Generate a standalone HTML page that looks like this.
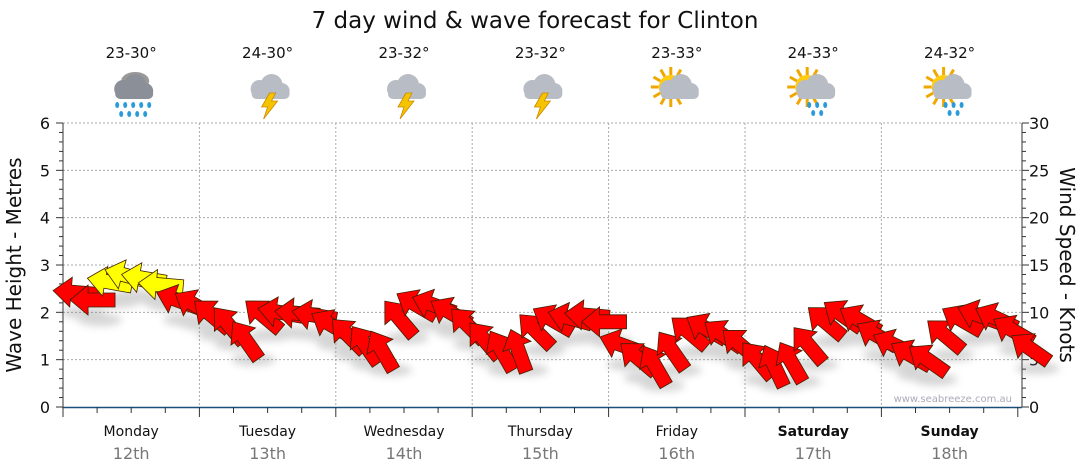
<!DOCTYPE html>
<html><head><meta charset="utf-8"><style>
body{margin:0;background:#fff;font-family:"DejaVu Sans","Liberation Sans",sans-serif}
svg{display:block}
</style></head><body>
<svg id="c" width="1080" height="475" xmlns="http://www.w3.org/2000/svg">
<defs>
<filter id="sh" x="-50%" y="-50%" width="200%" height="200%"><feGaussianBlur stdDeviation="4"/></filter>
</defs>
<text x="535" y="28" text-anchor="middle" font-size="23" fill="#111">7 day wind &amp; wave forecast for Clinton</text>
<g id="grid"></g><g id="axes"></g><g id="icons"></g><g id="marks"></g>
<text x="1012" y="402" text-anchor="end" font-size="10" fill="#aab">www.seabreeze.com.au</text>
<text transform="translate(21,265) rotate(-90)" text-anchor="middle" font-size="20" fill="#111">Wave Height - Metres</text>
<text transform="translate(1060,265) rotate(90)" text-anchor="middle" font-size="20" fill="#111">Wind Speed - Knots</text>
</svg>
<script>
const days=["Monday","Tuesday","Wednesday","Thursday","Friday","Saturday","Sunday"];
const dates=["12th","13th","14th","15th","16th","17th","18th"];
const temps=["23-30°","24-30°","23-32°","23-32°","23-33°","24-33°","24-32°"];
const weather=["rain","storm","storm","storm","partly","showers","showers"];
const waveTicks=[0,1,2,3,4,5,6];
const windTicks=[0,5,10,15,20,25,30];
const windSpeed=[12.1,11.3,13.2,13.9,13.6,12.9,11.3,10.8,
9.7,8.7,7.1,9.7,10,9.9,9.7,8.7,
7.6,6.6,6,9.4,10.8,10.8,10,8.7,
7.1,6,6,8.1,9.2,9.4,9.7,9,
6.6,5.2,4.4,6,7.9,8.3,7.6,6.6,
5,4.4,4.8,6.6,9,9.7,9.2,7.6,
6.6,5.5,5,7.6,9.2,9.7,9.4,8.1,6.2];
const windDir=[175,180,170,165,170,175,160,150,
140,130,125,140,170,175,170,150,
135,125,120,130,150,160,150,135,
130,120,110,135,150,165,175,180,
160,140,120,125,140,150,145,140,
130,115,120,130,140,145,150,150,
155,150,145,140,150,160,155,150,145];
const NS="http://www.w3.org/2000/svg";
const X0=63,X1=1022,Y0=407,Y1=123,DW=136.4;
const xDay=d=>X0+d*DW;
const yWave=v=>Y0-(v/6)*(Y0-Y1);
const yWind=v=>Y0-(v/30)*(Y0-Y1);
const xStep=i=>X0+12+i*DW/8;
function el(t,a,p){const e=document.createElementNS(NS,t);for(const k in a)e.setAttribute(k,a[k]);p.appendChild(e);return e;}
const grid=document.getElementById('grid'),axes=document.getElementById('axes'),icons=document.getElementById('icons'),marks=document.getElementById('marks');
waveTicks.forEach(v=>{
  if(v>0){const g=el('line',{x1:X0,x2:X1,y1:yWave(v),y2:yWave(v),stroke:'#aaa','stroke-dasharray':'2,2'},grid);
  
  }
  const t=el('text',{x:50,y:yWave(v)+6,'text-anchor':'end','font-size':16,fill:'#111'},axes);t.textContent=v;
  
  
});
windTicks.forEach(v=>{
  const t=el('text',{x:1029,y:yWind(v)+6,'font-size':16,fill:'#111'},axes);t.textContent=v;
  
  
});
for(let i=0;i<=30;i++){const y=Y0-i*(Y0-Y1)/30;
  el('line',{x1:i%5?X0-4:X0-7,x2:X0,y1:y,y2:y,stroke:'#333'},axes);
  el('line',{x1:X1,x2:i%5?X1+4:X1+7,y1:y,y2:y,stroke:'#333'},axes);}
el('line',{x1:X0,x2:X0,y1:Y1,y2:Y0,stroke:'#333'},axes);
el('line',{x1:X1,x2:X1,y1:Y1,y2:Y0,stroke:'#333'},axes);
el('line',{x1:X0,x2:X1,y1:Y0+0.5,y2:Y0+0.5,stroke:'#1a4f7a','stroke-width':1.5},axes);
for(let q=0;q<=28;q++){const x=X0+q*DW/4;el('line',{x1:x,x2:x,y1:Y0,y2:Y0+(q%4?6:10),stroke:'#333'},axes);}
days.forEach((d,i)=>{
  if(i>0){const g=el('line',{x1:xDay(i),x2:xDay(i),y1:Y1,y2:Y0,stroke:'#aaa','stroke-dasharray':'2,2'},grid);
  
  }
  const cx=xDay(i)+DW/2;
  const t=el('text',{x:cx,y:436,'text-anchor':'middle','font-size':14,fill:'#111','font-weight':i>=5?'bold':'normal'},axes);t.textContent=d;
  
  
  const t2=el('text',{x:cx,y:459,'text-anchor':'middle','font-size':16,fill:'#777'},axes);t2.textContent=dates[i];
  
  
  const t3=el('text',{x:cx,y:58,'text-anchor':'middle','font-size':15,fill:'#111'},icons);t3.textContent=temps[i];
  
  
  const g=el('g',{transform:`translate(${cx},93)`},icons);
  
  
  const w=weather[i];
  if(w=='partly'||w=='showers'){
    for(let r=0;r<12;r++){const a=r*Math.PI/6;el('line',{x1:-6+Math.cos(a)*12,y1:-6+Math.sin(a)*12,x2:-6+Math.cos(a)*20,y2:-6+Math.sin(a)*20,stroke:'#f0a800','stroke-width':3},g);}
    el('circle',{cx:-6,cy:-6,r:12,fill:'#ffcc10'},g);
  }
  const cc=w=='rain'?'#8a8f98':'#b8bcc4';
  if(w=='rain'){el('ellipse',{cx:4,cy:-12,rx:14,ry:9,fill:'#999'},g);}
  el('circle',{cx:-8,cy:-4,r:9,fill:cc},g);el('circle',{cx:4,cy:-8,r:11,fill:cc},g);el('circle',{cx:14,cy:-2,r:8,fill:cc},g);
  el('rect',{x:-16,y:-4,width:38,height:10,rx:5,fill:cc},g);
  if(w=='storm'){el('polygon',{points:'2,0 -6,14 0,14 -4,26 10,8 4,8 8,0',fill:'#f5c400',stroke:'#c80','stroke-width':0.8},g);}
  if(w=='rain'||w=='showers'){const n=w=='rain'?[[-14,12],[-6,12],[2,12],[10,12],[18,12],[-10,21],[-2,21],[6,21],[14,21]]:[[-4,12],[4,12],[12,12],[0,20],[8,20]];
    n.forEach(p=>el('ellipse',{cx:p[0],cy:p[1],rx:2,ry:3,fill:'#2a9ad8'},g));}
});
const shade=el('g',{filter:'url(#sh)',opacity:0.3},marks);
windSpeed.forEach((s,i)=>{
  const x=xStep(i),y=yWind(s);
  el('ellipse',{cx:x+8,cy:y+20,rx:22,ry:6,fill:'#777'},shade);
});
windSpeed.forEach((s,i)=>{
  const x=xStep(i),y=yWind(s),a=windDir[i];
  const p=el('polygon',{points:'-22,0 -4,-15 -4,-7 23,-7 23,7 -4,7 -4,15',fill:s>12.5?'#ffff00':'#ff0000',stroke:'#402000','stroke-width':0.8},marks);
  p.setAttribute('transform',`translate(${x},${y}) rotate(${-(a-180)})`);
  
  
});
</script>
</body></html>
